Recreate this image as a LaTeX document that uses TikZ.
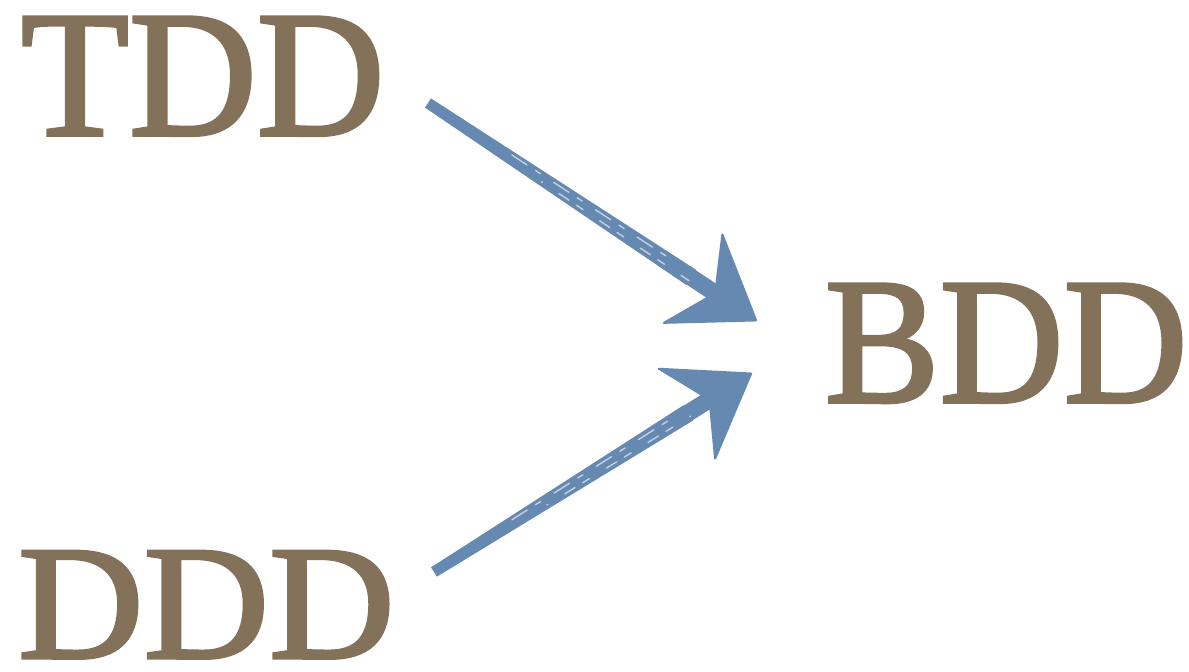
\documentclass[tikz,border=0pt]{standalone}
\usepackage{fontspec}
\setmainfont{Liberation Serif}
\newfontface\lblfont{Liberation Serif}[FakeBold=2]
\usetikzlibrary{arrows.meta,calc}
\definecolor{txtbrown}{HTML}{84715A}
\definecolor{arrblue}{HTML}{6689B2}
\tikzset{
  lbl/.style={text=txtbrown, inner sep=0pt, outer sep=0pt, anchor=base west,
    text height=119pt, text depth=0pt},
  brushhead/.style={draw=arrblue, line width=17pt, line cap=butt,
    -{Stealth[length=80pt, width=112pt, inset=28pt, round, line width=2pt]}},
  shaft/.style={fill=arrblue},
  streak/.style={draw=white, line width=1.4pt, opacity=0.6, line cap=round},
}
\newcommand{\brusharrow}[2]{%
  \fill[shaft] ($(#1)!5.5pt!90:(#2)$) -- ($(#1)!5.5pt!-90:(#2)$)
     -- ($($(#1)!0.8!(#2)$)!9pt!-90:(#2)$) -- ($($(#1)!0.8!(#2)$)!9pt!90:(#2)$) -- cycle;
  \draw[brushhead] ($(#1)!0.78!(#2)$) -- (#2);
  \draw[streak, dash pattern=on 18pt off 10pt on 6pt off 16pt]
     ($($(#1)!0.25!(#2)$)!3pt!90:(#2)$) -- ($($(#1)!0.75!(#2)$)!4pt!90:(#2)$);
  \draw[streak, dash pattern=on 8pt off 20pt on 12pt off 9pt, dash phase=7pt]
     ($($(#1)!0.35!(#2)$)!3pt!-90:(#2)$) -- ($($(#1)!0.8!(#2)$)!4pt!-90:(#2)$);
}
\begin{document}
\begin{tikzpicture}[x=1pt, y=-1pt]
\useasboundingbox (0,0) rectangle (1189,672);
\node[lbl] (TDD) at (21,135) {\lblfont\fontsize{180}{180}\selectfont\scalebox{0.983}[1]{TDD}};
\node[lbl] (BDD) at (825,402) {\lblfont\fontsize{180}{180}\selectfont\scalebox{0.954}[1]{BDD}};
\node[lbl, text height=108pt] (DDD) at (18,658) {\lblfont\fontsize{163}{163}\selectfont\scalebox{1.067}[1]{DDD}};
\coordinate (a1s) at (428,103);
\coordinate (a1e) at (757,321);
\coordinate (a2s) at (434,572);
\coordinate (a2e) at (752,373);
\brusharrow{a1s}{a1e}
\brusharrow{a2s}{a2e}
\end{tikzpicture}
\end{document}
